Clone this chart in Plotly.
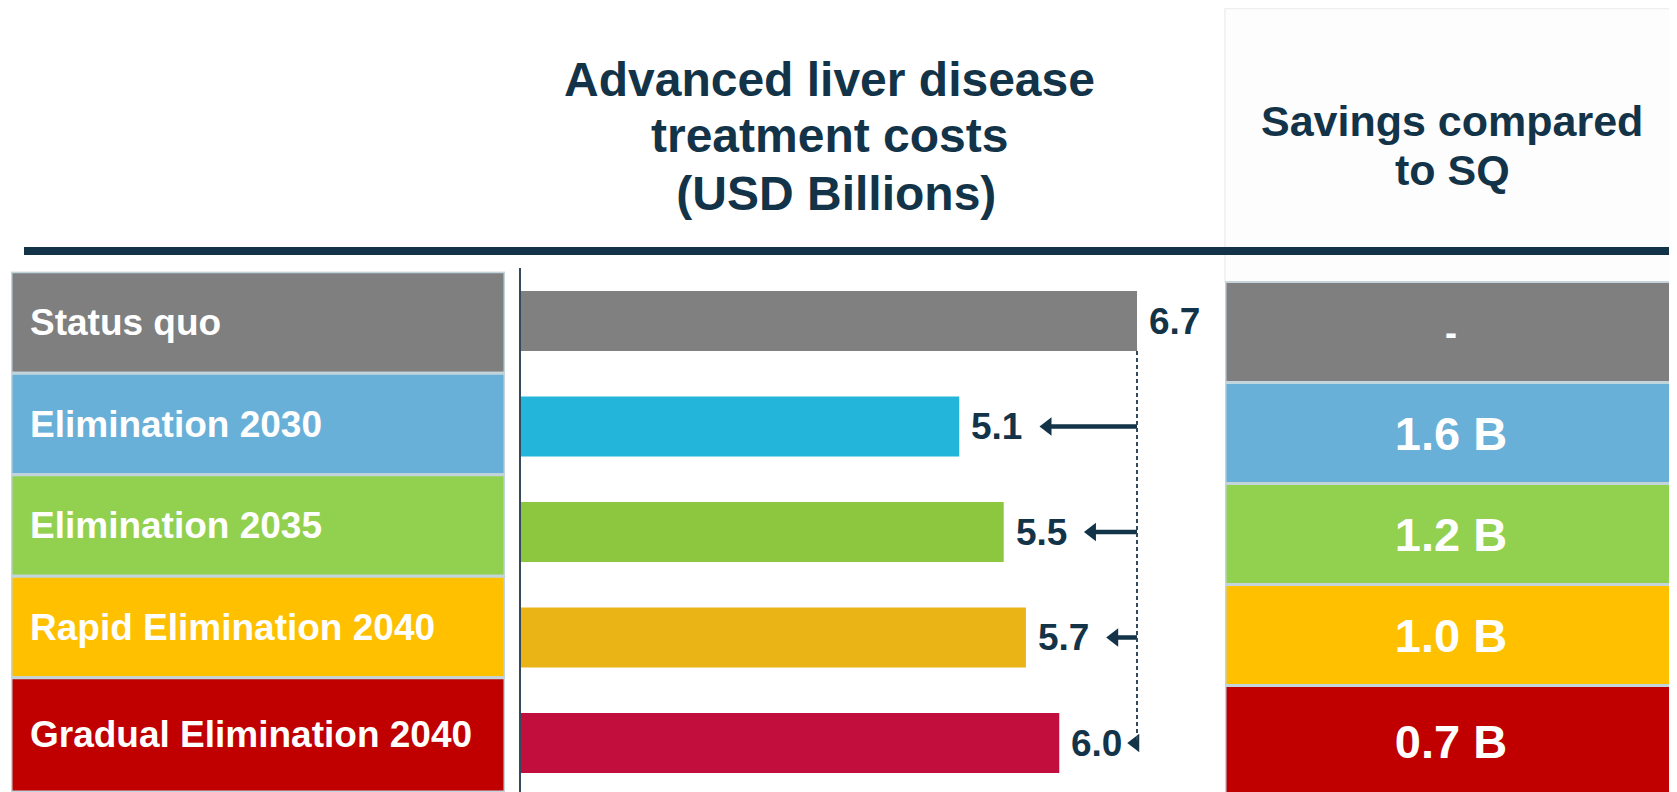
import plotly.graph_objects as go

PAGE_W, PAGE_H = 1677, 792
OFF = 8  # page body margin of the written html
W, H = PAGE_W - OFF, PAGE_H - OFF
FIG_BOTTOM = OFF + H  # page y of the figure's bottom edge

# ---------------- data ----------------
scenarios = ["Status quo", "Elimination 2030", "Elimination 2035",
             "Rapid Elimination 2040", "Gradual Elimination 2040"]
costs = [6.7, 5.1, 5.5, 5.7, 6.0]
cost_labels = ["6.7", "5.1", "5.5", "5.7", "6.0"]
savings_labels = ["-", "1.6 B", "1.2 B", "1.0 B", "0.7 B"]
header_cost = ["Advanced liver disease", "treatment costs", " (USD Billions)"]
header_savings = ["Savings compared", "to SQ"]

# ---------------- style ----------------
box_colors = ["#7f7f7f", "#69b0d8", "#92d050", "#ffc000", "#c00000"]
bar_colors = ["#808080", "#23b5da", "#8dc63f", "#eab416", "#c10e3c"]
NAVY = "#133448"
AXIS = "#34495b"
SEP = "#c2d4dc"
FONT = "Liberation Sans, Arial, sans-serif"


def px(x):
    return (x - OFF) / W


def py(y):
    return 1 - (y - OFF) / H


def yrange(center0, step):
    top = center0 - step / 2
    return [-0.5 + (FIG_BOTTOM - top) / step, -0.5], top


def row_geometry(center0, step, n, bottom=PAGE_H):
    """Bar widths/offsets so the last row runs to the bottom of the page."""
    top = center0 - step / 2
    last = (bottom - (top + (n - 1) * step)) / step
    widths = [1.0] * (n - 1) + [last]
    offsets = [-0.5] * n
    centers = [i - 0.5 + w / 2 for i, w in enumerate(widths)]
    return widths, offsets, centers


X_RANGE = [1.155, 7.267]
BAR_L, BAR_R = 521, 1200
K = (BAR_R - BAR_L) / (X_RANGE[1] - X_RANGE[0])  # px per unit

y_main, top_main = yrange(321, 105.5)
y_left, top_left = yrange(322.5, 101.5)
y_right, top_right = yrange(332, 101)

idx = list(range(len(scenarios)))
n = len(idx)
wl, ol, cl = row_geometry(322.5, 101.5, n)
wr, orr, cr = row_geometry(332, 101, n, bottom=798)

fig = go.Figure()

# left label column
fig.add_trace(go.Bar(
    y=idx, x=[1] * n, orientation="h", width=wl, offset=ol,
    marker=dict(color=box_colors, line=dict(color=SEP, width=3)),
    xaxis="x2", yaxis="y2", hoverinfo="skip", showlegend=False))

# main bars
fig.add_trace(go.Bar(
    y=idx, x=costs, orientation="h", width=0.57,
    marker=dict(color=bar_colors, line=dict(width=0)),
    xaxis="x", yaxis="y", hoverinfo="skip", showlegend=False))

# savings column
fig.add_trace(go.Bar(
    y=idx, x=[1] * n, orientation="h", width=wr, offset=orr,
    marker=dict(color=box_colors, line=dict(color=SEP, width=3)),
    text=savings_labels, textposition="inside", insidetextanchor="middle",
    textfont=dict(family=FONT, size=[36, 47, 47, 47, 47], color="white", weight="bold"),
    xaxis="x3", yaxis="y3", hoverinfo="skip", showlegend=False))

# arrows from the status-quo reference line (shaft + head)
ref = costs[0]
HEAD = 16  # marker size (px)
r = HEAD / 2
for i in idx[1:]:
    tip = min(costs[i] + 79 / K, ref - 11 / K)
    head_c = tip + 1.155 * r / K
    fig.add_trace(go.Scatter(
        x=[ref, head_c], y=[i, i], mode="lines",
        line=dict(color=NAVY, width=4.5), hoverinfo="skip", showlegend=False,
        xaxis="x", yaxis="y"))
    fig.add_trace(go.Scatter(
        x=[head_c], y=[i], mode="markers",
        marker=dict(symbol="triangle-left", size=HEAD, color=NAVY, line=dict(width=0)),
        hoverinfo="skip", showlegend=False, xaxis="x", yaxis="y", cliponaxis=False))

annotations = []
# left labels
for i, s in enumerate(scenarios):
    annotations.append(dict(
        x=0, y=cl[i], xref="x2", yref="y2", xanchor="left", yanchor="middle",
        xshift=17, text=f"<b>{s}</b>", showarrow=False,
        font=dict(family=FONT, size=37, color="white")))

# value labels
for i, lab in enumerate(cost_labels):
    annotations.append(dict(
        x=costs[i], y=i, xref="x", yref="y", xanchor="left", yanchor="middle",
        xshift=10, text=f"<b>{lab}</b>", showarrow=False,
        font=dict(family=FONT, size=37, color=NAVY)))

# headers
for t, yc in zip(header_cost, [79.5, 135, 193.5]):
    annotations.append(dict(
        x=px(829), y=py(yc), xref="paper", yref="paper", xanchor="center",
        yanchor="middle", text=f"<b>{t}</b>", showarrow=False,
        font=dict(family=FONT, size=48, color=NAVY)))
for t, yc in zip(header_savings, [121, 170.5]):
    annotations.append(dict(
        x=px(1452), y=py(yc), xref="paper", yref="paper", xanchor="center",
        yanchor="middle", text=f"<b>{t}</b>", showarrow=False,
        font=dict(family=FONT, size=43, color=NAVY)))

shapes = [
    # faint header box on right
    dict(type="rect", xref="paper", yref="paper", x0=px(1225), x1=px(1700),
         y0=py(282), y1=py(8.5), line=dict(color="#eeeeee", width=1.5),
         fillcolor="#fdfdfd", layer="below"),
    # thick rule
    dict(type="line", xref="paper", yref="paper", x0=px(24), x1=1.01,
         y0=py(251), y1=py(251), line=dict(color=NAVY, width=8)),
    # dashed reference line
    dict(type="line", xref="x", yref="y", x0=ref, x1=ref, y0=0.285, y1=3.97,
         line=dict(color=AXIS, width=2, dash="4px,3px")),
]

hidden = dict(showgrid=False, zeroline=False, showticklabels=False, ticks="",
              showline=False, fixedrange=True)

fig.update_layout(
    width=W, height=H,
    margin=dict(l=0, r=0, t=0, b=0, autoexpand=False),
    paper_bgcolor="white", plot_bgcolor="white",
    showlegend=False,
    xaxis=dict(domain=[px(BAR_L), px(BAR_R)], range=X_RANGE, anchor="y", **hidden),
    yaxis=dict(domain=[0, py(top_main)], range=y_main, anchor="x",
               showgrid=False, zeroline=False, showticklabels=False, ticks="",
               showline=True, linecolor=AXIS, linewidth=2),
    xaxis2=dict(domain=[px(11), px(505)], range=[0, 1], anchor="y2", **hidden),
    yaxis2=dict(domain=[0, py(top_left)], range=y_left, anchor="x2", **hidden),
    xaxis3=dict(domain=[px(1225), 1], range=[0, 1], anchor="y3", **hidden),
    yaxis3=dict(domain=[0, py(top_right)], range=y_right, anchor="x3", **hidden),
    annotations=annotations,
    shapes=shapes,
)

fig.write_html("out.html")
